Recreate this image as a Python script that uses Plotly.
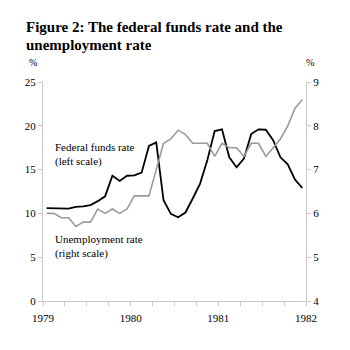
import plotly.graph_objects as go

months = list(range(36))  # Jan 1979 .. Dec 1981
fed_funds = [10.6, 10.6, 10.6, 10.55, 10.75, 10.8, 10.95, 11.4, 11.95, 14.3, 13.7, 14.3,
             14.35, 14.65, 17.7, 18.1, 11.5, 9.95, 9.55, 10.1, 11.7, 13.4, 16.1, 19.4,
             19.6, 16.4, 15.25, 16.25, 19.05, 19.6, 19.55, 18.35, 16.4, 15.6, 13.85, 12.9]
unemployment = [6.0, 6.0, 5.9, 5.9, 5.7, 5.8, 5.8, 6.1, 6.0, 6.1, 6.0, 6.1,
                6.4, 6.4, 6.4, 7.0, 7.6, 7.7, 7.9, 7.8, 7.6, 7.6, 7.6, 7.3,
                7.6, 7.5, 7.5, 7.3, 7.6, 7.6, 7.3, 7.5, 7.7, 8.0, 8.4, 8.6]
year_ticks = [1979, 1980, 1981, 1982]
left_ticks = [0, 5, 10, 15, 20, 25]
right_ticks = [4, 5, 6, 7, 8, 9]
title_lines = ["Figure 2: The federal funds rate and the", "unemployment rate"]

x = [1979 + (m + 0.5) / 12 for m in months]

FONT = "Liberation Serif"
AXC = "#c8c8c8"
TF = dict(family=FONT, size=11, color="#000")

def py(p):
    return (300.7 - p) / 219

def px(p):
    return (p - 43.3) / 262.4

fig = go.Figure()
fig.add_trace(go.Scatter(x=x, y=unemployment, yaxis="y2", mode="lines",
                         line=dict(color="#9a9a9a", width=1.6), showlegend=False))
fig.add_trace(go.Scatter(x=x, y=fed_funds, mode="lines",
                         line=dict(color="#000000", width=1.8), showlegend=False))

annotations = []
for i, line in enumerate(title_lines):
    annotations.append(dict(text="<b>" + line + "</b>", x=px(24), y=py(26 + 18.3 * i),
                            xref="paper", yref="paper", showarrow=False,
                            xanchor="left", yanchor="middle", height=17,
                            font=dict(family=FONT, size=15, color="#000")))
annotations += [
    dict(text="%", x=px(33), y=py(62), xref="paper", yref="paper",
         showarrow=False, xanchor="center", yanchor="middle",
         font=dict(family=FONT, size=10)),
    dict(text="%", x=px(310), y=py(62), xref="paper", yref="paper",
         showarrow=False, xanchor="center", yanchor="middle",
         font=dict(family=FONT, size=10)),
    dict(text="Federal funds rate<br>(left scale)", x=1979.11, y=18.5, xref="x", yref="y",
         showarrow=False, xanchor="left", yanchor="top", align="left",
         font=dict(family=FONT, size=11)),
    dict(text="Unemployment rate<br>(right scale)", x=1979.11, y=8.0, xref="x", yref="y",
         showarrow=False, xanchor="left", yanchor="top", align="left",
         font=dict(family=FONT, size=11)),
]

fig.update_layout(
    width=350, height=350,
    margin=dict(l=43, r=44, t=82, b=49),
    paper_bgcolor="white", plot_bgcolor="white",
    font=dict(family=FONT, size=11, color="#000"),
    xaxis=dict(range=[1979, 1982], tickvals=year_ticks, ticktext=[str(v) for v in year_ticks],
               showgrid=False, zeroline=False, showline=True, linecolor=AXC, linewidth=1,
               ticks="outside", ticklen=4, tickcolor=AXC, ticklabelstandoff=3,
               minor=dict(tick0=1979, dtick=0.25, ticks="outside", ticklen=4, tickcolor=AXC),
               tickfont=TF),
    yaxis=dict(range=[0, 25], tickvals=left_ticks, showgrid=False, zeroline=False,
               showline=True, linecolor=AXC, ticks="outside", ticklen=4, tickcolor=AXC,
               tickfont=TF),
    yaxis2=dict(range=[4, 9], tickvals=right_ticks, overlaying="y", side="right",
                showgrid=False, zeroline=False, showline=True, linecolor=AXC,
                ticks="outside", ticklen=4, tickcolor=AXC, tickfont=TF),
    annotations=annotations,
)

fig.write_html("out.html")
